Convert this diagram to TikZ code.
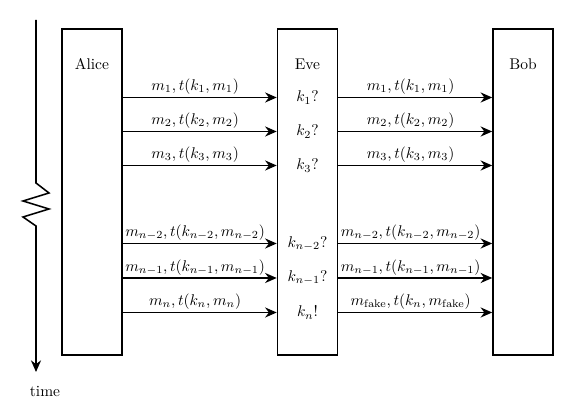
\documentclass[tikz,border=0pt]{standalone}
\usepackage{amsmath}
\usetikzlibrary{positioning,arrows.meta}

\begin{document}
\begin{tikzpicture}[x=0.02268cm,y=-0.02268cm,line width=1pt,>={Stealth[length=7.5pt,width=6.5pt]},
    party/.style={draw,minimum width=38.7pt,minimum height=210.3pt,inner sep=0pt},
    msg/.style={above,inner sep=1.5pt,pos=.47}]
        \useasboundingbox (0,0) rectangle (574,415);
        % the three parties
        \node[party] (alice) at (92,192) {};
        \node[party] (eve) at (307.5,192) {};
        \node[party] (bob) at (523,192) {};
        \node (alicename) at (92,64) {Alice};
        \node (evename) at (307.5,64) {Eve};
        \node (bobname) at (523,64) {Bob};

        % time axis with a break
        \coordinate (t0) at (36,20);
        \coordinate (t1) at (36,372);
        \node (time) at (45,391) {time};
        \draw[->] (t0) -- (36,183) -- ++(13,10) -- ++(-26,8) -- ++(26,8) -- ++(-26,8) -- ++(13,9) -- (t1);

        % first messages
        \node (g1) at (307.5,97.5) {$k_1?$};
        \draw[->] (alice.east |- g1) -- (eve.west |- g1) node[msg] {$m_1,t(k_1,m_1)$};
        \draw[->] (eve.east |- g1) -- (bob.west |- g1) node[msg] {$m_1,t(k_1,m_1)$};
        \node (g2) at (307.5,131.5) {$k_2?$};
        \draw[->] (alice.east |- g2) -- (eve.west |- g2) node[msg] {$m_2,t(k_2,m_2)$};
        \draw[->] (eve.east |- g2) -- (bob.west |- g2) node[msg] {$m_2,t(k_2,m_2)$};
        \node (g3) at (307.5,165.5) {$k_3?$};
        \draw[->] (alice.east |- g3) -- (eve.west |- g3) node[msg] {$m_3,t(k_3,m_3)$};
        \draw[->] (eve.east |- g3) -- (bob.west |- g3) node[msg] {$m_3,t(k_3,m_3)$};

        % last messages
        \node (gn2) at (307.5,243.5) {$k_{n-2}?$};
        \draw[->] (alice.east |- gn2) -- (eve.west |- gn2) node[msg] {$m_{n-2},t(k_{n-2},m_{n-2})$};
        \draw[->] (eve.east |- gn2) -- (bob.west |- gn2) node[msg] {$m_{n-2},t(k_{n-2},m_{n-2})$};
        \node (gn1) at (307.5,278) {$k_{n-1}?$};
        \draw[->] (alice.east |- gn1) -- (eve.west |- gn1) node[msg] {$m_{n-1},t(k_{n-1},m_{n-1})$};
        \draw[->] (eve.east |- gn1) -- (bob.west |- gn1) node[msg] {$m_{n-1},t(k_{n-1},m_{n-1})$};
        \node (gn) at (307.5,312.5) {$k_n!$};
        \draw[->] (alice.east |- gn) -- (eve.west |- gn) node[msg] {$m_n,t(k_n,m_n)$};
        \draw[->] (eve.east |- gn) -- (bob.west |- gn) node[msg] {$m_{\mathrm{fake}},t(k_n,m_{\mathrm{fake}})$};
    \end{tikzpicture}
\end{document}
